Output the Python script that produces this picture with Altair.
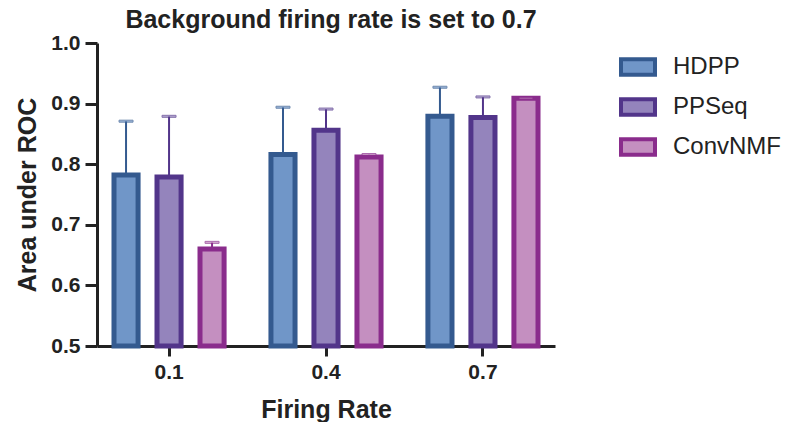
import altair as alt
import pandas as pd

rates = ["0.1", "0.4", "0.7"]
methods = ["HDPP", "PPSeq", "ConvNMF"]
hdpp_mean = [0.782, 0.816, 0.879]
ppseq_mean = [0.779, 0.856, 0.877]
convnmf_mean = [0.660, 0.812, 0.909]
hdpp_top = [0.871, 0.894, 0.927]
ppseq_top = [0.879, 0.891, 0.911]
convnmf_top = [0.671, 0.816, 0.909]

fills = ["#7096C8", "#9484BC", "#C48FC0"]
strokes = ["#345A8F", "#52358A", "#8A2C8C"]

rows = []
for m, means, tops in [("HDPP", hdpp_mean, hdpp_top), ("PPSeq", ppseq_mean, ppseq_top),
                       ("ConvNMF", convnmf_mean, convnmf_top)]:
    for r, v, t in zip(rates, means, tops):
        rows.append({"rate": r, "method": m, "auc": v, "top": t})
df = pd.DataFrame(rows)

FONT = "Liberation Sans"

x_enc = alt.X("rate:N", sort=rates, title="Firing Rate",
              scale=alt.Scale(paddingInner=0.178, paddingOuter=0.048),
              axis=alt.Axis(labelAngle=0, labelFontSize=21, labelFontWeight="bold",
                            titleFontSize=25, titleFontWeight="bold", titlePadding=15,
                            labelPadding=5, tickSize=10, tickWidth=3, domainWidth=3,
                            domainColor="#222", tickColor="#222", labelColor="#222",
                            titleColor="#222", labelFont=FONT, titleFont=FONT))
xoff = alt.XOffset("method:N", sort=methods,
                   scale=alt.Scale(paddingInner=0.44, paddingOuter=0.22))
y_scale = alt.Scale(domain=[0.5, 1.0], nice=False, zero=False)
y_axis = alt.Axis(values=[0.5, 0.6, 0.7, 0.8, 0.9, 1.0], format=".1f", grid=False,
                  labelFontSize=21, labelFontWeight="bold", titleFontSize=25,
                  titleFontWeight="bold", titlePadding=10, labelPadding=5, tickSize=12,
                  tickWidth=3, domainWidth=3, domainColor="#222", tickColor="#222",
                  labelColor="#222", titleColor="#222", labelFont=FONT, titleFont=FONT)

fill_enc = alt.Fill("method:N", sort=methods,
                    scale=alt.Scale(domain=methods, range=fills),
                    legend=alt.Legend(title=None, orient="none", legendX=522, legendY=5,
                                      symbolType="M-1,-0.45H1V0.45H-1Z", symbolSize=1156,
                                      symbolStrokeWidth=4, labelFontSize=24,
                                      labelFont=FONT, labelColor="#222", labelOffset=16,
                                      rowPadding=5))
stroke_enc = alt.Stroke("method:N", sort=methods,
                        scale=alt.Scale(domain=methods, range=strokes))

rules = alt.Chart(df).mark_rule(strokeWidth=2).encode(
    x=x_enc, xOffset=xoff,
    y=alt.Y("auc:Q", scale=y_scale, axis=y_axis, title="Area under ROC"),
    y2="top:Q", stroke=stroke_enc)
caps = alt.Chart(df).mark_tick(thickness=2, size=14).encode(
    x=x_enc, xOffset=xoff, y=alt.Y("top:Q", scale=y_scale), stroke=stroke_enc,
    fill=fill_enc)
bars = alt.Chart(df).mark_bar(strokeWidth=5, fillOpacity=1).encode(
    x=x_enc, xOffset=xoff,
    y=alt.Y("auc:Q", scale=y_scale, axis=y_axis, title="Area under ROC"),
    y2=alt.datum(0.5),
    fill=fill_enc, stroke=stroke_enc)

chart = alt.layer(rules, bars, caps).properties(
    width=458, height=303,
    title=alt.TitleParams("Background firing rate is set to 0.7", fontSize=25,
                          fontWeight="bold", font=FONT, color="#222", offset=-1,
                          anchor="middle", dx=5),
    autosize=alt.AutoSizeParams(type="none"),
    padding={"left": 89, "top": 35, "right": 228, "bottom": 76},
).configure_view(stroke=None)

chart.save("out.html", embed_options={"renderer": "svg", "actions": False})
